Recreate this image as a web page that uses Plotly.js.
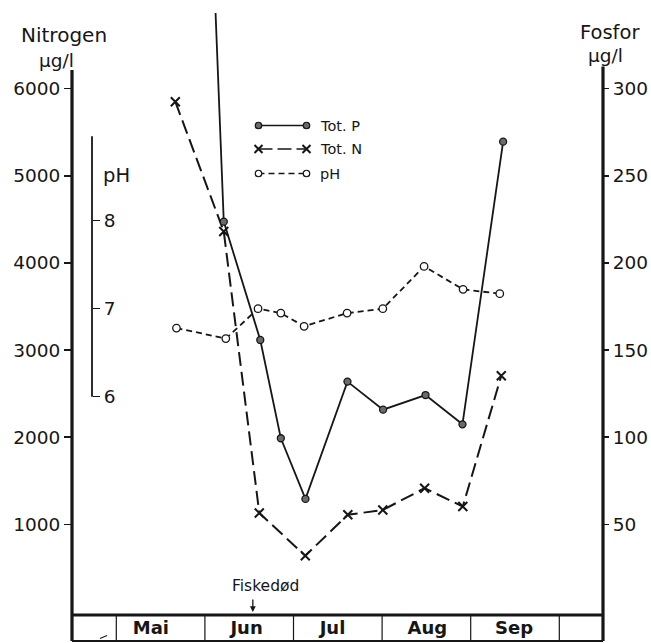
<!DOCTYPE html>
<html>
<head>
<meta charset="utf-8">
<script src="https://cdn.plot.ly/plotly-3.0.1.min.js"></script>
<style>
html,body{margin:0;padding:0;background:#fff;}
#chart{width:651px;height:643px;}
</style>
</head>
<body>
<div id="chart"></div>
<script>
// ---- data (x in month units: 0 = start of Mai, 1 = start of Jun, ...) ----
const months = ['Mai', 'Jun', 'Jul', 'Aug', 'Sep'];
const monthLabelPos = [0.39, 1.47, 2.44, 3.51, 4.49];
const monthBounds = [0, 1, 2, 3, 4, 5];

const nDates = [0.666, 1.213, 1.614, 2.133, 2.613, 3.008, 3.480, 3.911, 4.345];
const totN   = [5850, 4360, 1130, 640, 1110, 1165, 1415, 1205, 2705];

const pDates = [0.666, 1.213, 1.625, 1.857, 2.135, 2.609, 3.011, 3.490, 3.907, 4.366];
const totP   = [930, 223.7, 155.8, 99.4, 64.6, 131.9, 115.8, 124.2, 107.4, 269.6];

const phDates = [0.679, 1.236, 1.600, 1.857, 2.120, 2.605, 3.008, 3.474, 3.914, 4.328];
const pH      = [6.78, 6.66, 7.00, 6.95, 6.80, 6.95, 7.00, 7.48, 7.22, 7.17];

const nTicks  = [1000, 2000, 3000, 4000, 5000, 6000];
const pTicks  = [50, 100, 150, 200, 250, 300];
const phTicks = [6, 7, 8];

const fishDeathX = 1.541;

// ---- layout geometry ----
const W = 651, H = 643;
const L = 72, R = 603, T = 13, B = 615;
const px2paperX = p => (p - L) / (R - L);
const px2paperY = p => (B - p) / (B - T);
const FONT = 'DejaVu Sans';
const INK = '#161616';

const traces = [
  {
    x: pDates, y: totP, yaxis: 'y2', mode: 'lines+markers', name: 'Tot. P',
    line: {color: INK, width: 1.8},
    marker: {symbol: 'circle', size: 7, color: '#6a6a6a', line: {color: INK, width: 1.3}},
    showlegend: false
  },
  {
    x: nDates, y: totN, yaxis: 'y', mode: 'lines+markers', name: 'Tot. N',
    line: {color: INK, width: 2, dash: '14px,6px'},
    marker: {symbol: 'x-thin-open', size: 9, color: INK, line: {color: INK, width: 2}},
    showlegend: false
  },
  {
    x: phDates, y: pH, yaxis: 'y3', mode: 'lines+markers', name: 'pH',
    line: {color: INK, width: 1.8, dash: '6px,4px'},
    marker: {symbol: 'circle', size: 7.5, color: '#fff', line: {color: INK, width: 1.3}},
    showlegend: false
  },
  // legend samples on pixel-mapped overlay axes
  {
    x: [258.5, 306.5], y: [125.5, 125.5], xaxis: 'x2', yaxis: 'y4', mode: 'lines+markers',
    line: {color: INK, width: 1.5},
    marker: {symbol: 'circle', size: 6.5, color: '#6a6a6a', line: {color: INK, width: 1.2}},
    showlegend: false, hoverinfo: 'skip'
  },
  {
    x: [258.5, 306.5], y: [149, 149], xaxis: 'x2', yaxis: 'y4', mode: 'lines+markers',
    line: {color: INK, width: 1.5, dash: '14px,5px'},
    marker: {symbol: 'x-thin-open', size: 8, color: INK, line: {color: INK, width: 2}},
    showlegend: false, hoverinfo: 'skip'
  },
  {
    x: [258.5, 306.5], y: [173.5, 173.5], xaxis: 'x2', yaxis: 'y4', mode: 'lines+markers',
    line: {color: INK, width: 1.5, dash: '6px,4px'},
    marker: {symbol: 'circle', size: 6.5, color: '#fff', line: {color: INK, width: 1.2}},
    showlegend: false, hoverinfo: 'skip'
  }
];

const tickFont = {family: FONT, size: 18.5, color: INK};

const bottomY = px2paperY(641);
const shapes = [
  // left frame / nitrogen axis line
  {type: 'line', xref: 'paper', yref: 'paper', x0: 0, x1: 0, y0: px2paperY(70), y1: bottomY, line: {color: INK, width: 3.2}},
  // right frame / fosfor axis line
  {type: 'line', xref: 'paper', yref: 'paper', x0: 1, x1: 1, y0: px2paperY(66.5), y1: bottomY, line: {color: INK, width: 3.2}},
  // band top
  {type: 'line', xref: 'paper', yref: 'paper', x0: 0, x1: 1, y0: 0, y1: 0, line: {color: INK, width: 3.2}},
  // band bottom
  {type: 'line', xref: 'paper', yref: 'paper', x0: 0, x1: 1, y0: bottomY, y1: bottomY, line: {color: INK, width: 2.2}},
  // small stroke in the first band cell
  {type: 'line', xref: 'paper', yref: 'paper', x0: px2paperX(100), x1: px2paperX(107), y0: px2paperY(638.5), y1: px2paperY(635.5), line: {color: INK, width: 1.2}},
  // pH axis line
  {type: 'line', xref: 'paper', yref: 'y3', x0: px2paperX(92), x1: px2paperX(92), y0: 6, y1: 8.96, line: {color: INK, width: 1.8}}
];
monthBounds.forEach(m => {
  shapes.push({type: 'line', xref: 'x', yref: 'paper', x0: m, x1: m, y0: 0, y1: bottomY, line: {color: INK, width: 1.2}});
});

const annotations = [
  {xref: 'paper', yref: 'paper', x: px2paperX(63.5), y: px2paperY(35), text: 'Nitrogen', showarrow: false,
   xanchor: 'center', yanchor: 'middle', font: {family: FONT, size: 20, color: INK}},
  {xref: 'paper', yref: 'paper', x: px2paperX(56), y: px2paperY(60), text: 'µg/l', showarrow: false,
   xanchor: 'center', yanchor: 'middle', font: {family: FONT, size: 18.5, color: INK}},
  {xref: 'paper', yref: 'paper', x: px2paperX(610), y: px2paperY(32), text: 'Fosfor', showarrow: false,
   xanchor: 'center', yanchor: 'middle', font: {family: FONT, size: 19.5, color: INK}},
  {xref: 'paper', yref: 'paper', x: px2paperX(605), y: px2paperY(56), text: 'µg/l', showarrow: false,
   xanchor: 'center', yanchor: 'middle', font: {family: FONT, size: 18.5, color: INK}},
  {xref: 'x2', yref: 'y4', x: 101, y: 175, text: 'pH', showarrow: false,
   xanchor: 'left', yanchor: 'middle', font: {family: FONT, size: 19.5, color: INK}},
  // legend labels
  {xref: 'x2', yref: 'y4', x: 318, y: 125.5, text: 'Tot. P', showarrow: false, xanchor: 'left', yanchor: 'middle',
   font: {family: FONT, size: 14.5, color: INK}},
  {xref: 'x2', yref: 'y4', x: 318, y: 149, text: 'Tot. N', showarrow: false, xanchor: 'left', yanchor: 'middle',
   font: {family: FONT, size: 14.5, color: INK}},
  {xref: 'x2', yref: 'y4', x: 318, y: 173.5, text: 'pH', showarrow: false, xanchor: 'left', yanchor: 'middle',
   font: {family: FONT, size: 14.5, color: INK}},
  // Fiskedød
  {xref: 'x2', yref: 'y4', x: 265, y: 586, text: 'Fiskedød', showarrow: false, xanchor: 'center', yanchor: 'middle',
   font: {family: FONT, size: 15.5, color: INK}},
  {xref: 'x', yref: 'y4', x: fishDeathX, y: 612, text: '', showarrow: true, ax: 0, ay: -14,
   arrowhead: 2, arrowsize: 0.9, arrowwidth: 1.3, arrowcolor: INK}
];

const layout = {
  width: W, height: H,
  margin: {l: L, r: W - R, t: T, b: H - B, pad: 0},
  paper_bgcolor: '#fff', plot_bgcolor: '#fff',
  showlegend: false,
  xaxis: {
    range: [-0.5, -0.5 + (R - L) / 88.6], showline: false, showgrid: false, zeroline: false,
    ticks: '', tickmode: 'array', tickvals: monthLabelPos, ticktext: months.map(m => '<b>' + m + '</b>'),
    tickfont: {family: FONT, size: 18, color: INK}, fixedrange: true
  },
  yaxis: {
    range: [-40, 6868], showline: false, showgrid: false, zeroline: false,
    ticks: 'outside', ticklen: 7, tickwidth: 1.5, tickcolor: INK,
    tickmode: 'array', tickvals: nTicks, ticktext: nTicks.map(String), tickfont: tickFont, fixedrange: true
  },
  yaxis2: {
    overlaying: 'y', side: 'right', anchor: 'x',
    range: [-2.0, 343.4], showline: false, showgrid: false, zeroline: false,
    ticks: 'outside', ticklen: 5, tickwidth: 1.5, tickcolor: INK,
    tickmode: 'array', tickvals: pTicks, ticktext: pTicks.map(String), tickfont: tickFont, fixedrange: true
  },
  yaxis3: {
    overlaying: 'y', side: 'right', anchor: 'free', position: px2paperX(92),
    range: [3.519, 10.36], showline: false, showgrid: false, zeroline: false,
    ticks: 'outside', ticklen: 7, tickwidth: 1.5, tickcolor: INK,
    tickmode: 'array', tickvals: phTicks, ticktext: phTicks.map(String), tickfont: tickFont, fixedrange: true
  },
  xaxis2: {overlaying: 'x', range: [L, R], visible: false, fixedrange: true},
  yaxis4: {overlaying: 'y', range: [B, T], visible: false, fixedrange: true},
  shapes: shapes,
  annotations: annotations
};

Plotly.newPlot('chart', traces, layout, {staticPlot: true, displayModeBar: false});
</script>
</body>
</html>
